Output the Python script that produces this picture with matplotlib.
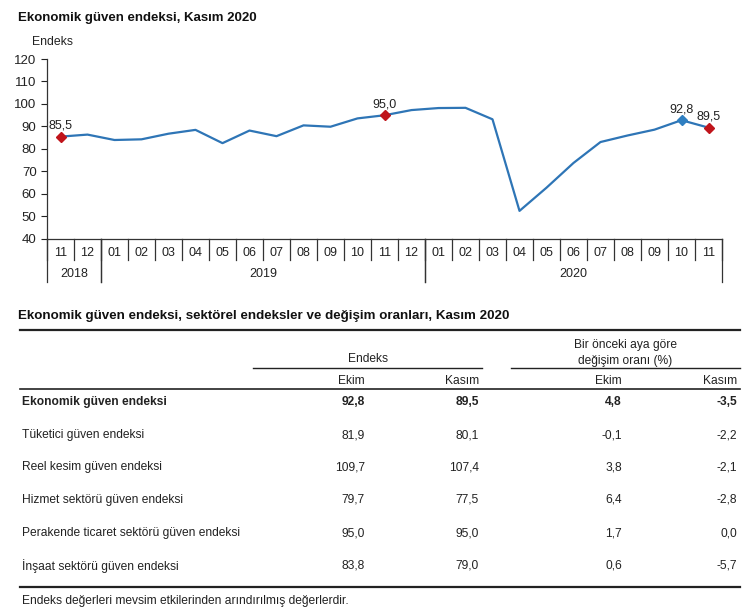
import matplotlib.pyplot as plt
from matplotlib.lines import Line2D

plt.rcParams['font.family'] = ['Liberation Sans', 'DejaVu Sans']

# chart data
months = ['11', '12', '01', '02', '03', '04', '05', '06', '07', '08', '09', '10', '11',
          '12', '01', '02', '03', '04', '05', '06', '07', '08', '09', '10', '11']
index_vals = [85.5, 86.4, 84.0, 84.3, 86.8, 88.5, 82.6, 88.2, 85.7, 90.5, 89.9, 93.6, 95.0,
              97.3, 98.2, 98.3, 93.2, 52.5, 62.8, 73.8, 83.1, 86.0, 88.6, 92.8, 89.5]
years = ['2018', '2019', '2020']
year_spans = [(0, 2), (2, 14), (14, 25)]
red_points = [0, 12, 24]
blue_points = [23]

# table data
row_names = ['Ekonomik güven endeksi', 'Tüketici güven endeksi', 'Reel kesim güven endeksi',
             'Hizmet sektörü güven endeksi', 'Perakende ticaret sektörü güven endeksi',
             'İnşaat sektörü güven endeksi']
idx_ekim = ['92,8', '81,9', '109,7', '79,7', '95,0', '83,8']
idx_kasim = ['89,5', '80,1', '107,4', '77,5', '95,0', '79,0']
chg_ekim = ['4,8', '-0,1', '3,8', '6,4', '1,7', '0,6']
chg_kasim = ['-3,5', '-2,2', '-2,1', '-2,8', '0,0', '-5,7']

W, H = 749, 614
TXT = '#222222'
LINE = '#2E75B6'
RED = '#C0141B'


def fx(x):
    return x / W


def fy(y):
    return 1 - y / H


fig = plt.figure(figsize=(W / 100, H / 100), dpi=100)

# ---------------- chart ----------------
ax = fig.add_axes([fx(47), fy(239), 675 / W, 180 / H])
x = list(range(len(months)))
ax.plot(x, index_vals, color=LINE, lw=1.6, zorder=2)
for i in red_points:
    ax.plot(i, index_vals[i], marker='D', ms=5.5, color=RED, zorder=3)
for i in blue_points:
    ax.plot(i, index_vals[i], marker='D', ms=5.5, color='#2F7FC1', zorder=3)
for i in red_points + blue_points:
    ax.text(i, index_vals[i] + 2.2, f"{index_vals[i]:.1f}".replace('.', ','),
            ha='center', va='bottom', fontsize=9, color=TXT)

ax.set_xlim(-0.5, len(months) - 0.5)
ax.set_ylim(40, 120)
ax.set_yticks(range(40, 121, 10))
ax.tick_params(axis='y', labelsize=9.5, colors=TXT, length=4, width=0.8, direction='out')
ax.set_xticks([])
for s in ['top', 'right']:
    ax.spines[s].set_visible(False)
for s in ['left', 'bottom']:
    ax.spines[s].set_color('#333333')
    ax.spines[s].set_linewidth(0.9)

tr = ax.get_xaxis_transform()
low1 = -21 / 180
low2 = -43 / 180
for i, m in enumerate(months):
    ax.text(i, -14 / 180, m, transform=tr, ha='center', va='center', fontsize=9, color=TXT)
for b in range(len(months) + 1):
    ax.plot([b - 0.5, b - 0.5], [0, low1], transform=tr, color='#333333', lw=0.9, clip_on=False)
for yr, (a, b) in zip(years, year_spans):
    ax.text((a + b - 1) / 2, -35 / 180, yr, transform=tr, ha='center', va='center',
            fontsize=9, color=TXT)
    for e in (a, b):
        ax.plot([e - 0.5, e - 0.5], [0, low2], transform=tr, color='#333333', lw=0.9,
                clip_on=False)

fig.text(fx(18), fy(18), 'Ekonomik güven endeksi, Kasım 2020', fontsize=9.5,
         fontweight='bold', color='#111111', va='center', ha='left')
fig.text(fx(32), fy(42), 'Endeks', fontsize=8.8, color=TXT, va='center', ha='left')

# ---------------- table ----------------
fig.text(fx(18), fy(316), 'Ekonomik güven endeksi, sektörel endeksler ve değişim oranları, Kasım 2020',
         fontsize=9.6, fontweight='bold', color='#111111', va='center', ha='left')


def hline(x0, x1, y, lw):
    fig.add_artist(Line2D([fx(x0), fx(x1)], [fy(y), fy(y)], color='#222222', lw=lw))


hline(20, 740, 330, 1.6)
hline(253, 482, 368, 1.0)
hline(511, 740, 368, 1.0)
hline(20, 740, 389, 1.2)
hline(20, 740, 587, 1.6)

fs = 8.65
fig.text(fx(368), fy(359), 'Endeks', fontsize=fs, color=TXT, ha='center', va='center')
fig.text(fx(625), fy(345), 'Bir önceki aya göre', fontsize=fs, color=TXT, ha='center', va='center')
fig.text(fx(625), fy(361), 'değişim oranı (%)', fontsize=fs, color=TXT, ha='center', va='center')

col_x = [365, 479, 622, 737]
for cx, lab in zip(col_x, ['Ekim', 'Kasım', 'Ekim', 'Kasım']):
    fig.text(fx(cx), fy(381), lab, fontsize=fs, color=TXT, ha='right', va='center')

row_y = [402, 435, 467, 500, 533, 566]
for r, ry in enumerate(row_y):
    fw = 'bold' if r == 0 else 'normal'
    fig.text(fx(22), fy(ry), row_names[r], fontsize=fs, color=TXT, ha='left', va='center',
             fontweight=fw)
    for cx, col in zip(col_x, [idx_ekim, idx_kasim, chg_ekim, chg_kasim]):
        fig.text(fx(cx), fy(ry), col[r], fontsize=fs, color=TXT, ha='right', va='center',
                 fontweight=fw)

fig.text(fx(22), fy(601), 'Endeks değerleri mevsim etkilerinden arındırılmış değerlerdir.',
         fontsize=fs, color=TXT, ha='left', va='center')

fig.savefig('out.png', dpi=100, facecolor='white')
